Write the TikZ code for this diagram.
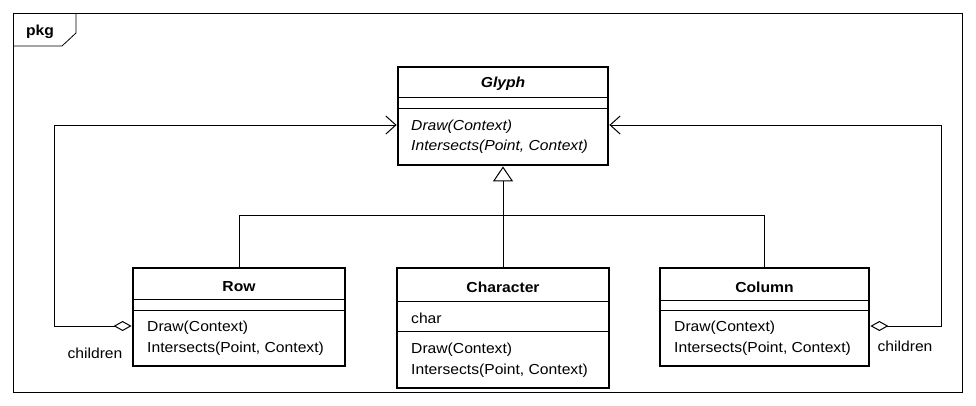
\documentclass[tikz,border=0pt]{standalone}
\usepackage{fontspec}
\setmainfont{Liberation Sans}[FakeStretch=1.08]
\usetikzlibrary{arrows.meta,calc}
\begin{document}
\begin{tikzpicture}[x=1pt,y=-1pt,
  classbox/.style={draw,line width=2.8pt,rectangle,inner sep=0pt},
  sep/.style={line width=0.8pt},
  conn/.style={line width=1pt},
  txt/.style={inner sep=0pt,anchor=west,yshift=-1.5pt,font=\fontsize{14.5}{16}\selectfont},
  ttl/.style={inner sep=0pt,yshift=-1.5pt,font=\fontsize{14.5}{16}\selectfont\bfseries},
  lbl/.style={inner sep=0pt,yshift=-1pt,font=\fontsize{14.5}{16}\selectfont}]
\useasboundingbox (0,0) rectangle (976,405);
% frame
\draw[line width=0.8pt] (13,13) rectangle (962,392);
\draw[line width=0.8pt] (13,46) -- (62,46) -- (76,33) -- (76,13);
\node[ttl] (pkg) at (40,30) {pkg};
% Glyph
\node[classbox,minimum width=210pt,minimum height=98pt] (glyph) at (503,116) {};
\node[ttl,font=\fontsize{14.5}{16}\selectfont\bfseries\itshape] (glyphT) at (503,82) {Glyph};
\draw[sep] (398,97) -- (608,97);
\draw[sep] (398,108) -- (608,108);
\node[txt,font=\fontsize{14.5}{16}\selectfont\itshape] (g1) at (411,125) {Draw(Context)};
\node[txt,font=\fontsize{14.5}{16}\selectfont\itshape] (g2) at (411,145) {Intersects(Point, Context)};
% Row
\node[classbox,minimum width=212pt,minimum height=98pt] (row) at (239,317) {};
\node[ttl] (rowT) at (239,285) {Row};
\draw[sep] (133,299) -- (345,299);
\draw[sep] (133,310) -- (345,310);
\node[txt] (r1) at (147,326) {Draw(Context)};
\node[txt] (r2) at (147,347) {Intersects(Point, Context)};
% Character
\node[classbox,minimum width=212pt,minimum height=120pt] (char) at (503,328) {};
\node[ttl] (charT) at (503,286) {Character};
\draw[sep] (397,301) -- (609,301);
\draw[sep] (397,331) -- (609,331);
\node[txt] (c0) at (411,317) {char};
\node[txt] (c1) at (411,348) {Draw(Context)};
\node[txt] (c2) at (411,369) {Intersects(Point, Context)};
% Column
\node[classbox,minimum width=209pt,minimum height=98pt] (col) at (764.5,317) {};
\node[ttl] (colT) at (764.5,286) {Column};
\draw[sep] (660,300) -- (869,300);
\draw[sep] (660,310) -- (869,310);
\node[txt] (k1) at (674,326) {Draw(Context)};
\node[txt] (k2) at (674,347) {Intersects(Point, Context)};
% generalization
\coordinate (bus) at (503,215.5);
\draw[conn,-{Triangle[open,width=20pt,length=15pt,line width=1pt]}] (char.north) -- (glyph.south);
\draw[conn] (row.north) |- (bus) -| (col.north);
% aggregations
\coordinate (lc) at (54,326);
\coordinate (rc) at (941,326);
\draw[conn,{Diamond[open,length=18pt,width=10pt,line width=1pt]}-{Straight Barb[length=10pt,width=18pt,line width=1pt]}]
  ($(row.west)+(0,9)$) -- (lc) |- ($(glyph.west)+(0,9)$);
\draw[conn,{Diamond[open,length=18pt,width=10pt,line width=1pt]}-{Straight Barb[length=10pt,width=18pt,line width=1pt]}]
  ($(col.east)+(0,9)$) -- (rc) |- ($(glyph.east)+(0,9)$);
\node[lbl] (ch1) at (95,352) {children};
\node[lbl] (ch2) at (905,345) {children};
\end{tikzpicture}
\end{document}
